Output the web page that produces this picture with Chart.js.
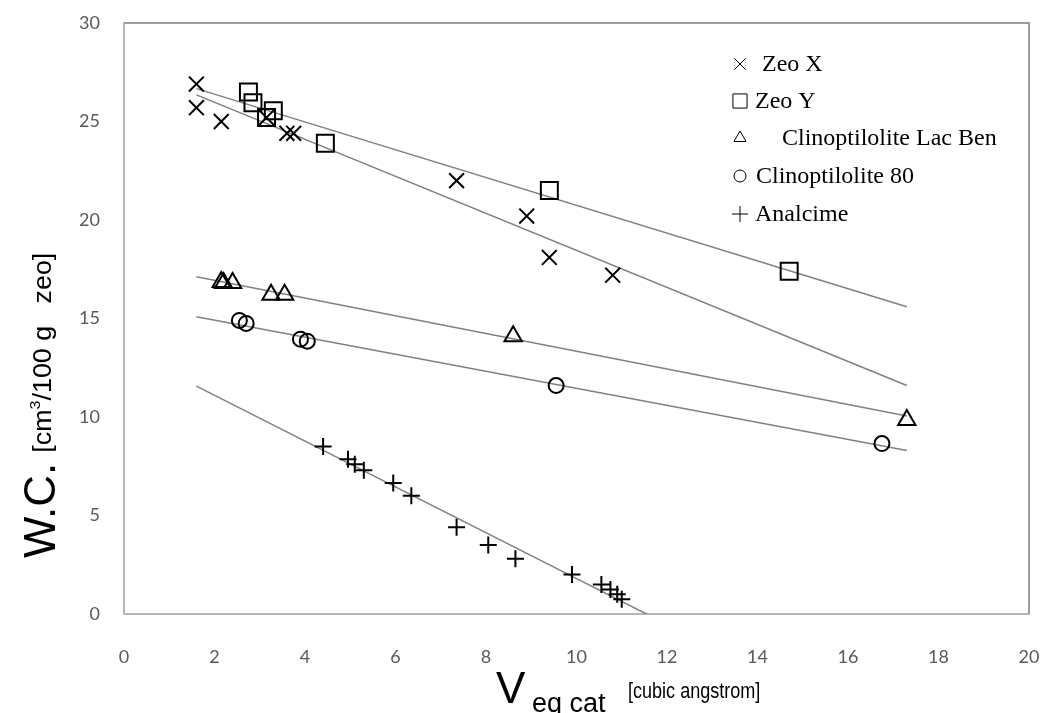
<!DOCTYPE html>
<html>
<head>
<meta charset="utf-8">
<script src="https://cdn.jsdelivr.net/npm/chart.js@4.4.1/dist/chart.umd.min.js"></script>
<style>
  body { margin: 0; background: #fff; }
</style>
</head>
<body>
<canvas id="wcChart" width="1044" height="713"></canvas>
<script>
// measured points (Veq cat, W.C.)
const zeoXx = [1.6, 1.6, 2.15, 3.15, 3.6, 3.75, 7.35, 8.9, 9.4, 10.8];
const zeoXy = [26.9, 25.7, 25.0, 25.2, 24.4, 24.4, 22.0, 20.2, 18.1, 17.2];
const zeoYx = [2.75, 2.85, 3.15, 3.3, 4.45, 9.4, 14.7];
const zeoYy = [26.5, 25.95, 25.2, 25.55, 23.9, 21.5, 17.4];
const clinoLBx = [2.15, 2.2, 2.4, 3.25, 3.55, 8.6, 17.3];
const clinoLBy = [16.85, 16.8, 16.8, 16.2, 16.2, 14.1, 9.85];
const clino80x = [2.55, 2.7, 3.9, 4.05, 9.55, 16.75];
const clino80y = [14.9, 14.75, 13.95, 13.85, 11.6, 8.65];
const analcimeX = [4.4, 4.95, 5.1, 5.3, 5.95, 6.35, 7.35, 8.05, 8.65, 9.9, 10.55, 10.75, 10.9, 11.0];
const analcimeY = [8.5, 7.85, 7.6, 7.3, 6.65, 6.0, 4.4, 3.5, 2.8, 2.0, 1.5, 1.25, 1.0, 0.75];

// trend lines, read at both ends
const trendX = [1.6, 17.3];
const trendZeoX = [26.35, 11.6];
const trendZeoY = [26.67, 15.6];
const trendClinoLB = [17.12, 10.05];
const trendClino80 = [15.09, 8.3];
const trendAnalcime = [11.57, -6.69];

const seriesNames = ["Zeo X", "Zeo Y", "Clinoptilolite Lac Ben", "Clinoptilolite 80", "Analcime"];
const xTicks = [0, 2, 4, 6, 8, 10, 12, 14, 16, 18, 20];
const yTicks = [0, 5, 10, 15, 20, 25, 30];

const pts = (xs, ys) => xs.map((x, i) => ({ x: x, y: ys[i] }));

const markers = [
  { style: "crossRot", r: 10.5, lr: 8 },
  { style: "rect", r: 12, lr: 10 },
  { style: "triangle", r: 10, lr: 7 },
  { style: "circle", r: 7.5, lr: 6 },
  { style: "cross", r: 8.5, lr: 8 },
];

function pointSet(i, xs, ys) {
  return {
    label: seriesNames[i],
    data: pts(xs, ys),
    showLine: false,
    pointStyle: markers[i].style,
    pointRadius: markers[i].r,
    pointBorderWidth: 2,
    pointBorderColor: "#000",
    pointBackgroundColor: "rgba(0,0,0,0)",
    order: 1,
  };
}

function trendSet(ys) {
  return {
    data: pts(trendX, ys),
    showLine: true,
    pointRadius: 0,
    borderColor: "#808080",
    borderWidth: 1.5,
    order: 2,
  };
}

// box round the plot area, light axis lines on left/bottom
const frame = {
  id: "frame",
  beforeDatasetsDraw(chart) {
    const { ctx, chartArea: a } = chart;
    ctx.save();
    ctx.lineWidth = 1.5;
    ctx.strokeStyle = "#7f7f7f";
    ctx.strokeRect(a.left, a.top, a.right - a.left, a.bottom - a.top);
    ctx.strokeStyle = "#bfbfbf";
    ctx.beginPath();
    ctx.moveTo(a.left, a.top);
    ctx.lineTo(a.left, a.bottom);
    ctx.lineTo(a.right, a.bottom);
    ctx.stroke();
    ctx.restore();
  },
};

const legendBox = {
  id: "legendBox",
  afterDraw(chart) {
    const ctx = chart.ctx;
    const a = chart.chartArea;
    const rows = [41, 78, 115, 153, 191];
    const textX = [638, 631, 658, 632, 631];
    ctx.save();
    ctx.font = "24px 'Liberation Serif'";
    ctx.textBaseline = "middle";
    seriesNames.forEach((name, i) => {
      const y = a.top + rows[i];
      ctx.strokeStyle = "#000";
      ctx.fillStyle = "rgba(0,0,0,0)";
      Chart.helpers.drawPoint(ctx, {
        pointStyle: markers[i].style,
        radius: markers[i].lr,
        borderWidth: 1.3,
        rotation: 0,
      }, a.left + 616, y);
      ctx.fillStyle = "#000";
      ctx.fillText(name, a.left + textX[i], y + 1);
    });
    ctx.restore();
  },
};

// axis titles with mixed sizes
const titles = {
  id: "titles",
  afterDraw(chart) {
    const ctx = chart.ctx;
    ctx.save();
    ctx.fillStyle = "#000";
    ctx.textBaseline = "alphabetic";

    // y title, rotated
    ctx.save();
    ctx.translate(55, 558);
    ctx.rotate(-Math.PI / 2);
    ctx.font = "44px 'Liberation Sans'";
    ctx.fillText("W.C.", 0, 0);
    const x0 = ctx.measureText("W.C.").width + 10;
    ctx.font = "25px 'Liberation Sans'";
    let w = ctx.measureText("[cm/100 g   zeo]").width;
    ctx.font = "15px 'Liberation Sans'";
    w += ctx.measureText("3").width;
    const k = 200 / w;
    ctx.translate(x0, 0);
    ctx.scale(k, 1);
    let sx = 0;
    ctx.font = "25px 'Liberation Sans'";
    ctx.fillText("[cm", sx, -4);
    sx += ctx.measureText("[cm").width;
    ctx.font = "15px 'Liberation Sans'";
    ctx.fillText("3", sx, -15);
    sx += ctx.measureText("3").width;
    ctx.font = "25px 'Liberation Sans'";
    ctx.fillText("/100 g   zeo]", sx, -4);
    ctx.restore();

    // x title
    ctx.font = "44px 'Liberation Sans'";
    ctx.fillText("V", 496, 703);
    ctx.font = "27px 'Liberation Sans'";
    ctx.fillText("eq cat", 532, 712);
    ctx.save();
    ctx.translate(628, 698);
    ctx.scale(0.82, 1);
    ctx.font = "22px 'Liberation Sans'";
    ctx.fillText("[cubic angstrom]", 0, 0);
    ctx.restore();

    ctx.restore();
  },
};

new Chart(document.getElementById("wcChart"), {
  type: "scatter",
  data: {
    datasets: [
      pointSet(0, zeoXx, zeoXy),
      pointSet(1, zeoYx, zeoYy),
      pointSet(2, clinoLBx, clinoLBy),
      pointSet(3, clino80x, clino80y),
      pointSet(4, analcimeX, analcimeY),
      trendSet(trendZeoX),
      trendSet(trendZeoY),
      trendSet(trendClinoLB),
      trendSet(trendClino80),
      trendSet(trendAnalcime),
    ],
  },
  options: {
    responsive: false,
    animation: false,
    layout: { padding: { top: 23, right: 15, left: 0, bottom: 0 } },
    plugins: {
      legend: { display: false },
      tooltip: { enabled: false },
    },
    scales: {
      x: {
        type: "linear",
        min: xTicks[0],
        max: xTicks[xTicks.length - 1],
        afterBuildTicks: (s) => { s.ticks = xTicks.map((v) => ({ value: v })); },
        afterFit: (s) => { s.height = 99; },
        grid: { display: false, drawTicks: true, tickLength: 32 },
        border: { display: false },
        ticks: { color: "#595959", padding: 0, font: { family: "Lato", size: 18 } },
      },
      y: {
        type: "linear",
        min: yTicks[0],
        max: yTicks[yTicks.length - 1],
        afterBuildTicks: (s) => { s.ticks = yTicks.map((v) => ({ value: v })); },
        afterFit: (s) => { s.width = 124; },
        grid: { display: false, drawTicks: true, tickLength: 24 },
        border: { display: false },
        ticks: { color: "#595959", padding: 0, font: { family: "Lato", size: 18 } },
      },
    },
  },
  plugins: [frame, legendBox, titles],
});
</script>
</body>
</html>
